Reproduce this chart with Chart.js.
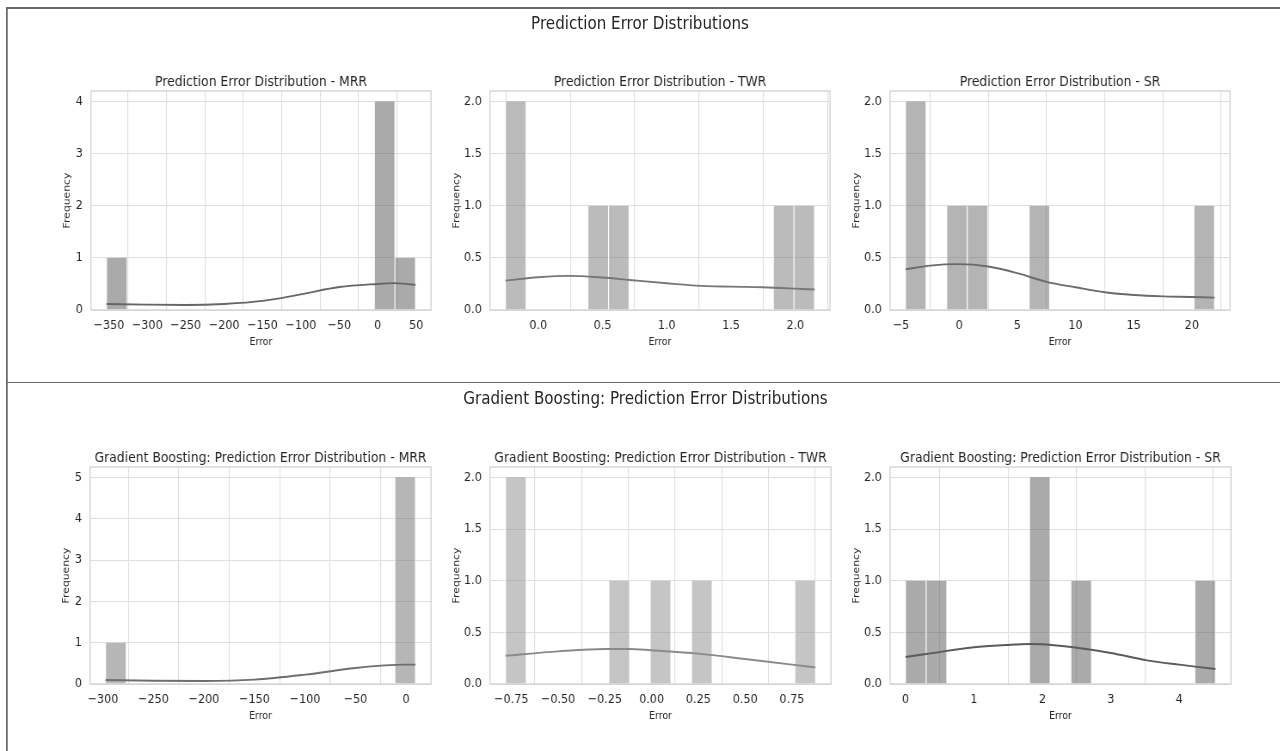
<!DOCTYPE html>
<html>
<head>
<meta charset="utf-8">
<title>Prediction Error Distributions</title>
<script src="https://cdn.jsdelivr.net/npm/chart.js@4.4.1/dist/chart.umd.min.js"></script>
<style>
    html, body { margin: 0; padding: 0; background: #fff; overflow: hidden; }
    body { width: 1280px; height: 751px; position: relative;
           font-family: "DejaVu Sans", sans-serif; color: #262626; }
    /* the source figure is squeezed sideways, so the whole sheet is drawn wider and scaled */
    #sheet { position: absolute; left: 0; top: 0; width: 1488.4px; height: 751px;
             transform: scaleX(0.86); transform-origin: 0 0; }
    .rule { position: absolute; background: #686868; }
    .suptitle { position: absolute; left: 0; width: 1488.4px; text-align: center;
                font-size: 17.6px; line-height: 20px; white-space: nowrap; }
    .plot { position: absolute; }
</style>
</head>
<body>
<div id="sheet">
    <div class="rule" style="left:7px;top:6.5px;width:1482px;height:2px"></div>
    <div class="rule" style="left:7px;top:6.5px;width:2.4px;height:745px"></div>
    <div class="rule" style="left:7px;top:381.5px;width:1482px;height:1.6px"></div>
    <div class="suptitle" style="top:13.3px">Prediction Error Distributions</div>
    <div class="suptitle" style="top:387.8px;left:6.4px">Gradient Boosting: Prediction Error Distributions</div>
</div>

<script>
// ---- top figure: Prediction Error Distributions ----
const mrrRange = [-353.2, 49.2];
const mrrCounts = [1, 0, 0, 0, 0, 0, 0, 0, 0, 0, 0, 0, 0, 4, 1];
const mrrKdeX = [-353.2, -300, -250, -200, -150, -100, -50, 0, 20, 49.2];
const mrrKdeY = [0.116, 0.103, 0.097, 0.116, 0.174, 0.30, 0.44, 0.50, 0.515, 0.484];
const mrrXTicks = [-350, -300, -250, -200, -150, -100, -50, 0, 50];

const twrRange = [-0.255, 2.15];
const twrCounts = [2, 0, 0, 0, 1, 1, 0, 0, 0, 0, 0, 0, 0, 1, 1];
const twrKdeX = [-0.255, 0, 0.24, 0.5, 0.71, 1.0, 1.23, 1.5, 1.75, 2.0, 2.15];
const twrKdeY = [0.282, 0.314, 0.327, 0.311, 0.288, 0.256, 0.234, 0.224, 0.218, 0.205, 0.196];
const twrXTicks = [0, 0.5, 1, 1.5, 2];

const srRange = [-4.62, 21.95];
const srCounts = [2, 0, 1, 1, 0, 0, 1, 0, 0, 0, 0, 0, 0, 0, 1];
const srKdeX = [-4.62, -2.5, 0, 2.5, 5, 7.5, 10, 12.5, 15, 17.5, 20, 21.95];
const srKdeY = [0.39, 0.426, 0.44, 0.417, 0.353, 0.27, 0.218, 0.17, 0.144, 0.131, 0.125, 0.119];
const srXTicks = [-5, 0, 5, 10, 15, 20];

// ---- bottom figure: Gradient Boosting ----
const gbMrrRange = [-297.5, 9.4];
const gbMrrCounts = [1, 0, 0, 0, 0, 0, 0, 0, 0, 0, 0, 0, 0, 0, 5];
const gbMrrKdeX = [-297.5, -250, -200, -150, -100, -50, -21, 0, 9.4];
const gbMrrKdeY = [0.097, 0.08, 0.073, 0.105, 0.226, 0.387, 0.45, 0.468, 0.468];
const gbMrrXTicks = [-300, -250, -200, -150, -100, -50, 0];

const gbTwrRange = [-0.781, 0.876];
const gbTwrCounts = [2, 0, 0, 0, 0, 1, 0, 1, 0, 1, 0, 0, 0, 0, 1];
const gbTwrKdeX = [-0.781, -0.5, -0.25, -0.12, 0, 0.25, 0.5, 0.75, 0.876];
const gbTwrKdeY = [0.274, 0.316, 0.339, 0.339, 0.326, 0.294, 0.242, 0.187, 0.161];
const gbTwrXTicks = [-0.75, -0.5, -0.25, 0, 0.25, 0.5, 0.75];

const gbSrRange = [0, 4.53];
const gbSrCounts = [1, 1, 0, 0, 0, 0, 2, 0, 1, 0, 0, 0, 0, 0, 1];
const gbSrKdeX = [0, 0.3, 1, 1.47, 1.81, 2, 2.45, 3, 3.53, 4, 4.53];
const gbSrKdeY = [0.261, 0.29, 0.355, 0.377, 0.387, 0.384, 0.355, 0.30, 0.229, 0.187, 0.145];
const gbSrXTicks = [0, 1, 2, 3, 4];

const yTicksMrr = [0, 1, 2, 3, 4];
const yTicksGbMrr = [0, 1, 2, 3, 4, 5];
const yTicksHalf = [0, 0.5, 1, 1.5, 2];

Chart.defaults.font.family = '"DejaVu Sans", sans-serif';
Chart.defaults.color = '#262626';

const SX = 0.86;                      // sideways squeeze of the sheet
const TEXT = '#262626';
const GRID = '#dedede';
const TITLE_SIZE = 14.4;
const TH = TITLE_SIZE * 1.2;          // title block height
const XH = 40;                        // x axis block height
const RP = 28;

function fmt(v, d) {
    return v.toFixed(d).replace('-', '\u2212');
}

// light box round the plot area, like the seaborn spines
const frame = {
    id: 'frame',
    afterDatasetsDraw(chart) {
        const a = chart.chartArea;
        const ctx = chart.ctx;
        ctx.save();
        ctx.strokeStyle = '#d0d0d0';
        ctx.lineWidth = 1.3;
        ctx.strokeRect(a.left, a.top, a.right - a.left, a.bottom - a.top);
        ctx.restore();
    }
};

// box is given in page pixels; x values are turned into sheet pixels here
function histChart(box, h) {
    const left = box.left / SX;
    const right = box.right / SX;
    const yw = box.gap / SX + 6.5;

    const cl = Math.floor(left - yw);
    const ct = Math.floor(box.top - TH);
    const cw = Math.ceil(right + RP) - cl;
    const ch = Math.ceil(box.bottom + XH) - ct;

    const wrap = document.createElement('div');
    wrap.className = 'plot';
    wrap.style.left = cl + 'px';
    wrap.style.top = ct + 'px';
    wrap.style.width = cw + 'px';
    wrap.style.height = ch + 'px';
    const canvas = document.createElement('canvas');
    wrap.appendChild(canvas);
    document.getElementById('sheet').appendChild(wrap);

    const n = h.counts.length;
    const bw = (h.range[1] - h.range[0]) / n;
    const bars = h.counts.map((c, i) => ({ x: h.range[0] + (i + 0.5) * bw, y: c }));
    const kde = h.kdeX.map((x, i) => ({ x: x, y: h.kdeY[i] }));
    const margin = (h.range[1] - h.range[0]) * 0.05;
    const yMax = Math.max(...h.counts) * 1.05;

    new Chart(canvas, {
        type: 'bar',
        data: {
            datasets: [
                {
                    type: 'line',
                    data: kde,
                    borderColor: h.line,
                    borderWidth: 1.9,
                    pointRadius: 0,
                    cubicInterpolationMode: 'monotone',
                    fill: false,
                    order: 0,
                },
                {
                    data: bars,
                    backgroundColor: h.bar,
                    borderColor: 'rgba(255, 255, 255, 0.85)',
                    borderWidth: { left: 0.9, right: 0.9, top: 0, bottom: 0 },
                    categoryPercentage: 1,
                    barPercentage: 1,
                    order: 1,
                },
            ],
        },
        options: {
            responsive: true,
            maintainAspectRatio: false,
            animation: false,
            layout: {
                padding: {
                    left: left - yw - cl,
                    top: box.top - TH - ct,
                    right: cw - (right - cl),
                    bottom: ch - XH - (box.bottom - ct),
                },
            },
            plugins: {
                legend: { display: false },
                tooltip: { enabled: false },
                title: {
                    display: true,
                    text: h.title,
                    fullSize: false,
                    color: TEXT,
                    font: { size: TITLE_SIZE, weight: 'normal' },
                    padding: { top: 0, bottom: 0 },
                },
            },
            scales: {
                x: {
                    type: 'linear',
                    bounds: 'data',
                    offset: false,
                    min: h.range[0] - margin,
                    max: h.range[1] + margin,
                    grid: { color: GRID, lineWidth: 1.1, drawTicks: false },
                    border: { display: false },
                    afterBuildTicks: (s) => { s.ticks = h.xTicks.map((v) => ({ value: v })); },
                    afterFit: (s) => { s.height = XH; },
                    ticks: {
                        autoSkip: false,
                        maxRotation: 0,
                        padding: 8.2,
                        color: TEXT,
                        font: { size: 13 },
                        callback: (v) => fmt(v, h.xDec),
                    },
                    title: {
                        display: true,
                        text: 'Error',
                        color: TEXT,
                        font: { size: 10.8 },
                        padding: { top: 0, bottom: 1.5 },
                    },
                },
                y: {
                    type: 'linear',
                    bounds: 'data',
                    min: 0,
                    max: yMax,
                    grid: { color: GRID, lineWidth: 1, drawTicks: false },
                    border: { display: false },
                    afterBuildTicks: (s) => { s.ticks = h.yTicks.map((v) => ({ value: v })); },
                    afterFit: (s) => { s.width = yw; },
                    ticks: {
                        autoSkip: false,
                        padding: 9.5,
                        color: TEXT,
                        font: { size: 13 },
                        callback: (v) => fmt(v, h.yDec),
                    },
                    title: {
                        display: true,
                        text: 'Frequency',
                        color: TEXT,
                        font: { size: 10.8 },
                        padding: { top: 0, bottom: 0 },
                    },
                },
            },
        },
        plugins: [frame],
    });
}

histChart({ left: 91, right: 431, top: 91, bottom: 310, gap: 24 }, {
    title: 'Prediction Error Distribution - MRR',
    range: mrrRange, counts: mrrCounts, kdeX: mrrKdeX, kdeY: mrrKdeY,
    xTicks: mrrXTicks, yTicks: yTicksMrr, xDec: 0, yDec: 0,
    bar: 'rgba(85, 85, 85, 0.5)', line: '#666666',
});
histChart({ left: 490, right: 830, top: 91, bottom: 310, gap: 33.5 }, {
    title: 'Prediction Error Distribution - TWR',
    range: twrRange, counts: twrCounts, kdeX: twrKdeX, kdeY: twrKdeY,
    xTicks: twrXTicks, yTicks: yTicksHalf, xDec: 1, yDec: 1,
    bar: 'rgba(120, 120, 120, 0.5)', line: '#777777',
});
histChart({ left: 890, right: 1230, top: 91, bottom: 310, gap: 33.5 }, {
    title: 'Prediction Error Distribution - SR',
    range: srRange, counts: srCounts, kdeX: srKdeX, kdeY: srKdeY,
    xTicks: srXTicks, yTicks: yTicksHalf, xDec: 0, yDec: 1,
    bar: 'rgba(105, 105, 105, 0.5)', line: '#6a6a6a',
});
histChart({ left: 90, right: 431, top: 467, bottom: 684, gap: 24 }, {
    title: 'Gradient Boosting: Prediction Error Distribution - MRR',
    range: gbMrrRange, counts: gbMrrCounts, kdeX: gbMrrKdeX, kdeY: gbMrrKdeY,
    xTicks: gbMrrXTicks, yTicks: yTicksGbMrr, xDec: 0, yDec: 0,
    bar: 'rgba(110, 110, 110, 0.5)', line: '#6e6e6e',
});
histChart({ left: 490, right: 831, top: 467, bottom: 684, gap: 33.5 }, {
    title: 'Gradient Boosting: Prediction Error Distribution - TWR',
    range: gbTwrRange, counts: gbTwrCounts, kdeX: gbTwrKdeX, kdeY: gbTwrKdeY,
    xTicks: gbTwrXTicks, yTicks: yTicksHalf, xDec: 2, yDec: 1,
    bar: 'rgba(140, 140, 140, 0.5)', line: '#8a8a8a',
});
histChart({ left: 890, right: 1231, top: 467, bottom: 684, gap: 33.5 }, {
    title: 'Gradient Boosting: Prediction Error Distribution - SR',
    range: gbSrRange, counts: gbSrCounts, kdeX: gbSrKdeX, kdeY: gbSrKdeY,
    xTicks: gbSrXTicks, yTicks: yTicksHalf, xDec: 0, yDec: 1,
    bar: 'rgba(85, 85, 85, 0.5)', line: '#5a5a5a',
});
</script>
</body>
</html>
